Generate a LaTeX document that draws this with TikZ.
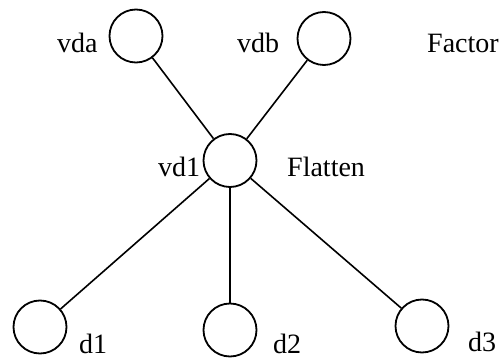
\documentclass[tikz,border=0pt]{standalone}
\usepackage{fontspec}
\setmainfont{Liberation Serif}
\begin{document}
\begin{tikzpicture}[x=1pt,y=-1pt,
  vert/.style={circle,draw,line width=1.8pt,minimum size=53pt,inner sep=0pt},
  lbl/.style={anchor=base west,inner sep=0pt,font=\rmfamily\fontsize{28}{30}\selectfont},
  edge/.style={line width=1.6pt}]
\useasboundingbox (0,0) rectangle (501,358);
\node[vert] (vda) at (136,36) {};
\node[vert] (vdb) at (324,38.5) {};
\node[vert] (vd1) at (230,160.5) {};
\node[vert] (d1) at (40,327) {};
\node[vert] (d2) at (230,330) {};
\node[vert] (d3) at (422,326) {};
\node[lbl] (tvda) at (57,53) {vda};
\node[lbl] (tvdb) at (237,53) {vdb};
\node[lbl] (tfac) at (427,53) {Factor};
\node[lbl] (tvd1) at (158,177) {vd1};
\node[lbl] (tfla) at (287,177) {Flatten};
\node[lbl] (td1) at (79,353) {d1};
\node[lbl] (td2) at (273,353) {d2};
\node[lbl] (td3) at (468,352) {d3};
\draw[edge] (vd1) -- (vda);
\draw[edge] (vd1) -- (vdb);
\draw[edge] (vd1) -- (d1);
\draw[edge] (vd1) -- (d2);
\draw[edge] (vd1) -- (d3);
\end{tikzpicture}
\end{document}
